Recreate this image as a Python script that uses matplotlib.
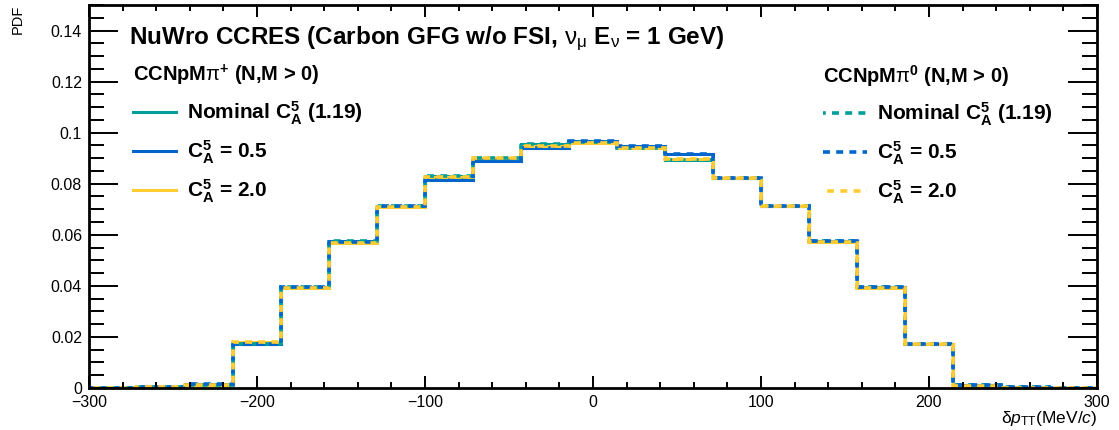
import numpy as np
import matplotlib
matplotlib.use("Agg")
import matplotlib.pyplot as plt
from matplotlib.ticker import MultipleLocator, FormatStrFormatter

plt.rcParams['font.family'] = ['Liberation Sans', 'DejaVu Sans']
plt.rcParams['mathtext.fontset'] = 'custom'
plt.rcParams['mathtext.rm'] = 'Liberation Sans'
plt.rcParams['mathtext.it'] = 'Liberation Sans:italic'
plt.rcParams['mathtext.bf'] = 'Liberation Sans:bold'
plt.rcParams['lines.scale_dashes'] = False

# binning of delta p_TT (MeV/c)
x_lo, x_hi, n_bins = -300, 300, 21
edges = np.linspace(x_lo, x_hi, n_bins + 1)

# CCNpMpi+ (solid)
pip_nominal = [0.0001, 0.0002, 0.0012, 0.0174, 0.0397, 0.0574, 0.0714, 0.0829, 0.0902, 0.0955, 0.0962,
               0.0942, 0.0893, 0.0823, 0.0712, 0.0575, 0.0395, 0.0174, 0.0010, 0.0002, 0.0001]
pip_ca05 = [0.0001, 0.0003, 0.0014, 0.0173, 0.0396, 0.0573, 0.0714, 0.0813, 0.0889, 0.0940, 0.0968,
            0.0948, 0.0915, 0.0823, 0.0712, 0.0574, 0.0394, 0.0173, 0.0010, 0.0002, 0.0001]
pip_ca20 = [0.0001, 0.0002, 0.0010, 0.0182, 0.0390, 0.0567, 0.0710, 0.0827, 0.0902, 0.0948, 0.0961,
            0.0938, 0.0898, 0.0823, 0.0712, 0.0573, 0.0393, 0.0174, 0.0009, 0.0001, 0.0001]

# CCNpMpi0 (dashed)
pi0_nominal = [0.0001, 0.0002, 0.0012, 0.0174, 0.0397, 0.0574, 0.0714, 0.0829, 0.0902, 0.0955, 0.0962,
               0.0940, 0.0892, 0.0823, 0.0712, 0.0575, 0.0395, 0.0174, 0.0010, 0.0002, 0.0001]
pi0_ca05 = [0.0001, 0.0003, 0.0014, 0.0173, 0.0396, 0.0573, 0.0714, 0.0813, 0.0889, 0.0938, 0.0968,
            0.0948, 0.0915, 0.0823, 0.0712, 0.0574, 0.0394, 0.0173, 0.0010, 0.0002, 0.0001]
pi0_ca20 = [0.0001, 0.0002, 0.0010, 0.0182, 0.0390, 0.0567, 0.0710, 0.0827, 0.0902, 0.0948, 0.0961,
            0.0938, 0.0898, 0.0823, 0.0712, 0.0573, 0.0393, 0.0174, 0.0009, 0.0001, 0.0001]

labels = [r'Nominal $\mathbf{C}_{\mathbf{A}}^{\mathbf{5}}$ (1.19)',
          r'$\mathbf{C}_{\mathbf{A}}^{\mathbf{5}}$ = 0.5',
          r'$\mathbf{C}_{\mathbf{A}}^{\mathbf{5}}$ = 2.0']
colors = ['#009E9A', '#0066CC', '#FFCC33']

fig = plt.figure(figsize=(11.19, 4.30), dpi=100)
ax = fig.add_axes([0.0795, 0.0977, 0.9008, 0.8907])

solid = []
for vals, c, lab in zip([pip_nominal, pip_ca05, pip_ca20], colors, labels):
    h = ax.stairs(vals, edges, color=c, lw=2.2, label=lab)
    solid.append(h)

dashed = []
for vals, c, lab, off in zip([pi0_nominal, pi0_ca05, pi0_ca20], colors, labels, [3, 0, 6.5]):
    h = ax.stairs(vals, edges, color=c, lw=2.6, linestyle=(off, (5, 4.5)), label=lab)
    dashed.append(h)

ax.set_xlim(x_lo, x_hi)
ax.set_ylim(0, 0.15)

ax.xaxis.set_major_locator(MultipleLocator(100))
ax.xaxis.set_minor_locator(MultipleLocator(20))
ax.yaxis.set_major_locator(MultipleLocator(0.02))
ax.yaxis.set_minor_locator(MultipleLocator(0.005))
ax.yaxis.set_major_formatter(FormatStrFormatter('%g'))

ax.tick_params(which='both', direction='in', top=True, right=True, width=1.4)
ax.tick_params(axis='x', which='major', length=8.5, labelsize=11.5, pad=5)
ax.tick_params(axis='x', which='minor', length=4.3)
ax.tick_params(axis='y', which='major', length=21, labelsize=11.5, pad=5)
ax.tick_params(axis='y', which='minor', length=11)
for s in ax.spines.values():
    s.set_linewidth(2)

ax.set_xlabel(r'δ$p_{\mathrm{TT}}$(MeV/$c$)', loc='right', fontsize=12.5, labelpad=-1)
ax.set_ylabel('PDF', loc='top', fontsize=10.5, labelpad=19)

ax.text(0.04, 0.911,
        r'NuWro CCRES (Carbon GFG w/o FSI, $\mathrm{\nu}_{\mathrm{\mu}}$ $\mathbf{E}_{\mathrm{\nu}}$ = 1 GeV)',
        transform=ax.transAxes, fontsize=17.5, fontweight='bold', va='center', ha='left')

leg_font = {'weight': 'bold', 'size': 15}
title_font = {'weight': 'bold', 'size': 14.5}
leg1 = ax.legend(handles=solid, loc='upper left', bbox_to_anchor=(0.035, 0.87), frameon=False,
                 prop=leg_font, title=r'CCNpM$\mathrm{\pi}^{\mathbf{+}}$ (N,M > 0)',
                 title_fontproperties=title_font,
                 handlelength=2.1, handletextpad=0.5, labelspacing=0.55, borderaxespad=0)
leg1._legend_box.align = 'left'
ax.add_artist(leg1)

leg2 = ax.legend(handles=dashed, loc='upper left', bbox_to_anchor=(0.72, 0.87), frameon=False,
                 prop=leg_font, title=r'CCNpM$\mathrm{\pi}^{\mathbf{0}}$ (N,M > 0)',
                 title_fontproperties=title_font,
                 handlelength=2.1, handletextpad=0.5, labelspacing=0.55, borderaxespad=0)
leg2._legend_box.align = 'left'

fig.savefig('out.png', dpi=100)
